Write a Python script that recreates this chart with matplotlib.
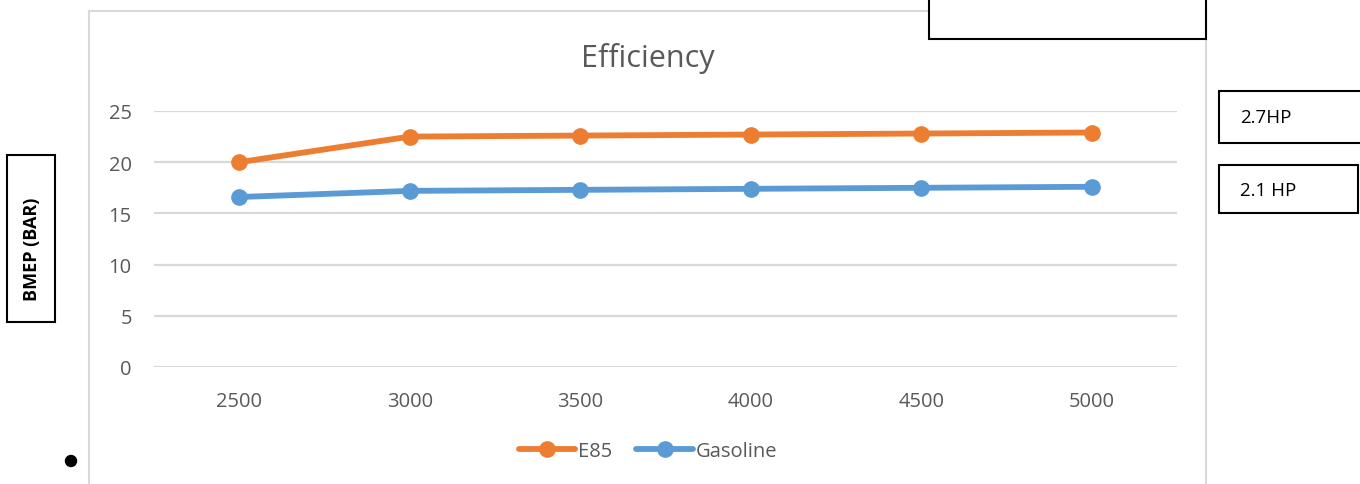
import numpy as np
import matplotlib.pyplot as plt
from matplotlib.patches import Rectangle, Ellipse
from matplotlib.lines import Line2D

plt.rcParams['font.family'] = ['Open Sans', 'DejaVu Sans']

rpm = ['2500', '3000', '3500', '4000', '4500', '5000']
e85 = [20.0, 22.5, 22.6, 22.7, 22.8, 22.9]
gasoline = [16.6, 17.2, 17.3, 17.4, 17.5, 17.6]
yticks = [0, 5, 10, 15, 20, 25]

W, H = 1360, 485
fig = plt.figure(figsize=(W / 100, H / 100), dpi=100)

def fx(px):
    return px / W

def fy(py):
    return 1 - py / H

# plot area
ax = fig.add_axes([fx(154), fy(368), fx(1177) - fx(154), fy(112) - fy(368)])
x = np.arange(len(rpm))
ax.plot(x, e85, color='#ED7D31', lw=4.2, marker='o', ms=11, label='E85',
        solid_capstyle='round', zorder=3)
ax.plot(x, gasoline, color='#5B9BD5', lw=4.2, marker='o', ms=11, label='Gasoline',
        solid_capstyle='round', zorder=3)
ax.set_xlim(-0.5, len(rpm) - 0.5)
ax.set_ylim(0, 25)
ax.set_yticks(yticks)
ax.set_xticks(x)
ax.set_xticklabels(rpm)
ax.grid(axis='y', color='#d9d9d9', lw=1.6)
ax.set_axisbelow(True)
for s in ax.spines.values():
    s.set_visible(False)
ax.tick_params(length=0, labelsize=14.5, labelcolor='#595959')
ax.tick_params(axis='x', pad=17)
ax.tick_params(axis='y', pad=16)
ax.patch.set_alpha(0)

fig.text(fx(648), fy(58), 'Efficiency', ha='center', va='center',
         fontsize=22, color='#595959')

leg = fig.legend(loc='center', bbox_to_anchor=(fx(648), fy(452)), ncol=2,
                 frameon=False, fontsize=14.5, handlelength=2.8,
                 columnspacing=1.2, handletextpad=0.15)
for t in leg.get_texts():
    t.set_color('#595959')

# chart frame
frame = dict(transform=fig.transFigure, color='#d9d9d9', lw=1.5)
fig.add_artist(Line2D([fx(89), fx(89)], [fy(12), 0], **frame))
fig.add_artist(Line2D([fx(89), fx(1206)], [fy(12), fy(12)], **frame))
fig.add_artist(Line2D([fx(1206), fx(1206)], [fy(12), 0], **frame))

# text boxes around the chart
def box(x0, y0, x1, y1):
    fig.add_artist(Rectangle((fx(x0), fy(y1)), fx(x1) - fx(x0), fy(y0) - fy(y1),
                             transform=fig.transFigure, facecolor='white',
                             edgecolor='black', lw=1.5, zorder=5))

box(929, -5, 1206, 40)
box(1219, 92, 1365, 144)
box(1219, 166, 1358, 214)
box(7, 156, 55, 323)

fig.text(fx(1240), fy(118), '2.7HP', ha='left', va='center', fontsize=13.5,
         color='black', zorder=6)
fig.text(fx(1240), fy(191), '2.1 HP', ha='left', va='center', fontsize=13.5,
         color='black', zorder=6)
fig.text(fx(32), fy(249), 'BMEP (BAR)', ha='center', va='center', rotation=90,
         fontsize=13, fontweight='bold', color='black', zorder=6)

fig.add_artist(Ellipse((fx(71), fy(462)), 11 / W, 11 / H,
                       transform=fig.transFigure, color='black'))

fig.savefig('out.png', dpi=100)
